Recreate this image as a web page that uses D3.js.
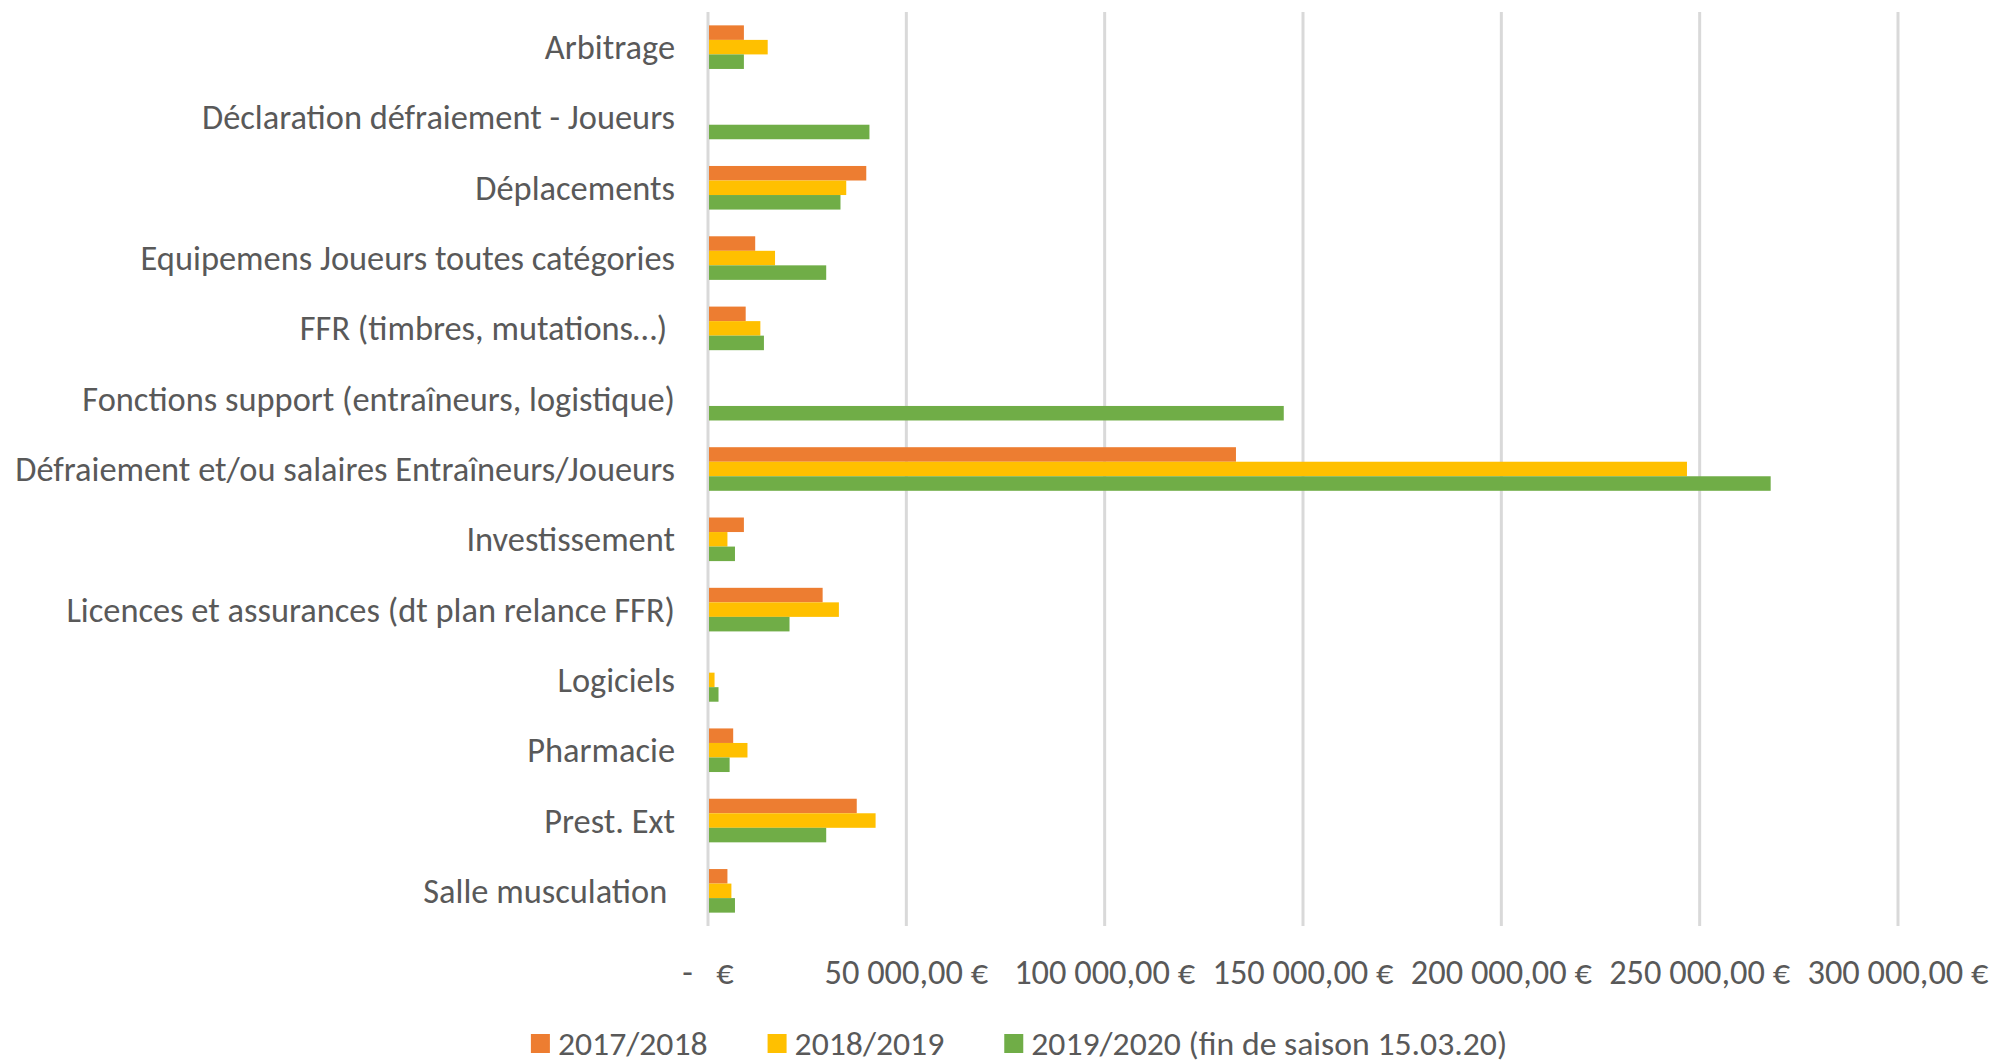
<!DOCTYPE html>
<html><head><meta charset="utf-8">
<script src="https://cdn.jsdelivr.net/npm/d3@7"></script>
<style>
body{margin:0;background:#fff;overflow:hidden}
text{font-family:Carlito,Roboto,'Open Sans',sans-serif;fill:#595959;white-space:pre}
</style>
</head><body>
<svg id="chart" width="2013" height="1064"></svg>
<script>
const categories = [
  "Arbitrage",
  "Déclaration défraiement - Joueurs",
  "Déplacements",
  "Equipemens Joueurs toutes catégories",
  "FFR (timbres, mutations…) ",
  "Fonctions support (entraîneurs, logistique)",
  "Défraiement et/ou salaires Entraîneurs/Joueurs",
  "Investissement",
  "Licences et assurances (dt plan relance FFR)",
  "Logiciels",
  "Pharmacie",
  "Prest. Ext",
  "Salle musculation "
];
const seriesNames = ["2017/2018", "2018/2019", "2019/2020 (fin de saison 15.03.20)"];
const values2017 = [9050, 0, 39900, 11900, 9500, 0, 133100, 9050, 28900, 0, 6350, 37500, 4900];
const values2018 = [15050, 0, 34850, 16900, 13200, 0, 246800, 4900, 33000, 1650, 9950, 42250, 5900];
const values2019 = [9050, 40700, 33400, 29800, 14100, 145150, 267900, 6800, 20550, 2650, 5450, 29800, 6800];
const tickValues = [0, 50000, 100000, 150000, 200000, 250000, 300000];
const colors = ["#ED7D31", "#FFC000", "#70AD47"];

const seriesValues = [values2017, values2018, values2019];
const svg = d3.select("#chart");

const x = d3.scaleLinear().domain([0, 300000]).range([708, 1898]);
const y = d3.scaleBand().domain(categories).range([12, 926]).paddingInner(0.38).paddingOuter(0.19);
const ySub = d3.scaleBand().domain(d3.range(3)).range([0, y.bandwidth()]);

// font size fitting the longest label to its reference width
const probe = svg.append("text").attr("font-size", 30).text(categories[6]);
const w = probe.node().getComputedTextLength();
probe.remove();
const fs = 30 * 660 / w;

// gridlines
svg.append("g").selectAll("line").data(tickValues).join("line")
  .attr("x1", d => x(d)).attr("x2", d => x(d))
  .attr("y1", 12).attr("y2", 926)
  .attr("stroke", "#D9D9D9").attr("stroke-width", 3);

// bars
const groups = svg.append("g").selectAll("g").data(categories).join("g")
  .attr("transform", d => `translate(0,${y(d)})`);
groups.selectAll("rect").data((d, i) => seriesValues.map((s, k) => ({k, v: s[i]})))
  .join("rect")
  .attr("x", x(0) + 1)
  .attr("y", d => ySub(d.k))
  .attr("width", d => d.v > 0 ? x(d.v) - x(0) - 1 : 0)
  .attr("height", ySub.bandwidth())
  .attr("fill", d => colors[d.k]);

// category labels
svg.append("g").selectAll("text").data(categories).join("text")
  .attr("x", 675).attr("y", d => y(d) + y.bandwidth() / 2)
  .attr("text-anchor", "end").attr("dominant-baseline", "central")
  .attr("font-size", fs).text(d => d);

// x tick labels
const fr = d3.formatLocale({decimal: ",", thousands: "\u2009", grouping: [3], currency: ["", " €"]});
const fmt = v => v === 0 ? "-   €" : fr.format(",.2f")(v).replace(/\u2009/g, " ") + " €";
svg.append("g").selectAll("text").data(tickValues).join("text")
  .attr("x", d => x(d)).attr("y", 972)
  .attr("text-anchor", "middle").attr("dominant-baseline", "central")
  .attr("font-size", fs).text(fmt);

// legend
const leg = svg.append("g");
let cx = 0;
const gap = 60;
seriesNames.forEach((name, k) => {
  const g = leg.append("g");
  g.append("rect").attr("x", 0).attr("y", -9).attr("width", 19).attr("height", 19).attr("fill", colors[k]);
  const t = g.append("text").attr("x", 27).attr("y", 0).attr("dominant-baseline", "central")
    .attr("font-size", fs * 0.98).text(name);
  g.attr("transform", `translate(${cx},0)`);
  cx += 27 + t.node().getComputedTextLength() + gap;
});
const totalW = cx - gap;
leg.attr("transform", `translate(${1019 - totalW / 2},1043)`);
</script>
</body></html>
